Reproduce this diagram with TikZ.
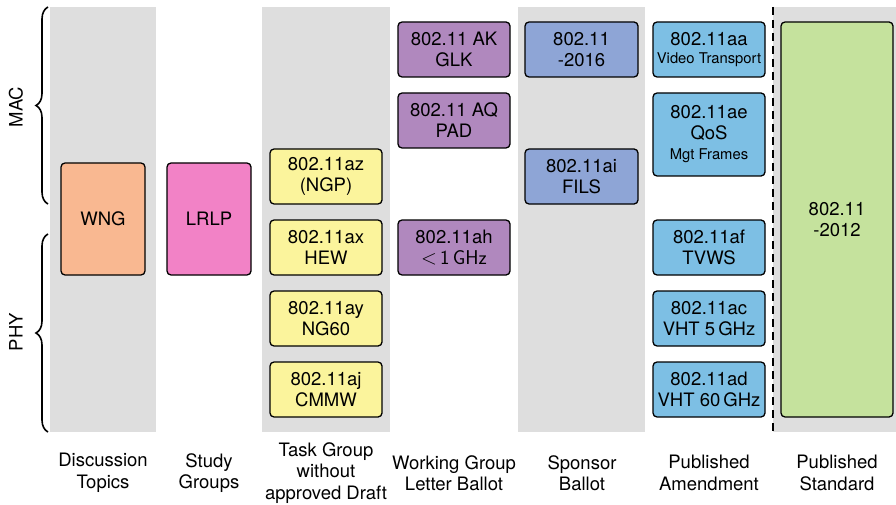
\documentclass[tikz,border=0pt]{standalone}
\usepackage{fontspec}
\setmainfont{TeX Gyre Heros}
\usetikzlibrary{decorations.pathreplacing}
\definecolor{bandgray}{HTML}{DEDEDE}
\definecolor{cwng}{HTML}{F9B891}
\definecolor{clrlp}{HTML}{F282C6}
\definecolor{cyel}{HTML}{FBF49C}
\definecolor{cpur}{HTML}{B088BE}
\definecolor{cspon}{HTML}{8EA5D6}
\definecolor{camend}{HTML}{7DBFE4}
\definecolor{cgreen}{HTML}{C5E29D}
\tikzset{
  box/.style={draw=black, line width=1.3pt, rounded corners=4pt, align=center,
    inner sep=0pt, font=\fontsize{18.5}{21}\selectfont},
  tgbox/.style={box, fill=cyel, minimum width=112pt, minimum height=55pt},
  wgbox/.style={box, fill=cpur, minimum width=112pt, minimum height=55pt},
  spbox/.style={box, fill=cspon, minimum width=113pt, minimum height=55pt},
  ambox/.style={box, fill=camend, minimum width=112pt, minimum height=55pt},
  band/.style={fill=bandgray, draw=none},
  collabel/.style={align=center, font=\fontsize{18.5}{21.5}\selectfont},
  sidelabel/.style={rotate=90, font=\fontsize{18.5}{20}\selectfont},
  bracestyle/.style={decorate, decoration={brace, amplitude=12pt}, line width=1.6pt},
}
\newcommand{\smalltxt}[1]{{\fontsize{14.8}{16}\selectfont #1}}
\begin{document}
\begin{tikzpicture}[x=1pt, y=-1pt]
\useasboundingbox (0,0) rectangle (896,505);
% bands
\fill[band] (50,7) rectangle (156,432);
\fill[band] (262,7) rectangle (390,432);
\fill[band] (518,7) rectangle (645,432);
\fill[band] (773,7) rectangle (896,432);
\draw[line width=1.8pt, dash pattern=on 8pt off 5pt] (773,7) -- (773,432);
% braces
\coordinate (macb) at (48,204);
\coordinate (mact) at (48,7);
\coordinate (phyb) at (48,432);
\coordinate (phyt) at (48,234);
\draw[bracestyle] (macb) -- (mact);
\draw[bracestyle] (phyb) -- (phyt);
\node[sidelabel] (mac) at (16,107) {MAC};
\node[sidelabel] (phy) at (16,332) {PHY};
% discussion / study
\node[box, fill=cwng, minimum width=84pt, minimum height=112pt] (wng) at (103,219) {WNG};
\node[box, fill=clrlp, minimum width=84pt, minimum height=112pt] (lrlp) at (209,219) {LRLP};
% task groups
\node[tgbox] (az) at (326,176.5) {802.11az\\(NGP)};
\node[tgbox] (ax) at (326,247.5) {802.11ax\\HEW};
\node[tgbox] (ay) at (326,318.5) {802.11ay\\NG60};
\node[tgbox] (aj) at (326,389.5) {802.11aj\\CMMW};
% working group
\node[wgbox] (ak) at (454,49.5) {802.11 AK\\GLK};
\node[wgbox] (aq) at (454,120.5) {802.11 AQ\\PAD};
\node[wgbox] (ah) at (454,247.5) {802.11ah\\{\sffamily\fontsize{20}{21}\selectfont $<$\,1\,GHz}};
% sponsor
\node[spbox] (s16) at (581.5,49.5) {802.11\\-2016};
\node[spbox] (ai) at (581.5,176.5) {802.11ai\\FILS};
% amendments
\node[ambox] (aa) at (709,49.5) {802.11aa\\[-3pt]\smalltxt{Video Transport}};
\node[ambox, minimum height=83pt] (ae) at (709,134.5) {802.11ae\\QoS\\[-1pt]\smalltxt{Mgt Frames}};
\node[ambox] (af) at (709,247.5) {802.11af\\TVWS};
\node[ambox] (ac) at (709,318.5) {802.11ac\\VHT 5\,GHz};
\node[ambox] (ad) at (709,389.5) {802.11ad\\VHT 60\,GHz};
% standard
\node[box, fill=cgreen, minimum width=112pt, minimum height=395pt] (s12) at (837,219.5) {802.11\\-2012};
% column labels
\node[collabel] (l1) at (103,473) {Discussion\\Topics};
\node[collabel] (l2) at (209,473) {Study\\Groups};
\node[collabel] (l3) at (326,473) {Task Group\\without\\approved Draft};
\node[collabel] (l4) at (454,473) {Working Group\\Letter Ballot};
\node[collabel] (l5) at (582,473) {Sponsor\\Ballot};
\node[collabel] (l6) at (709,473) {Published\\Amendment};
\node[collabel] (l7) at (837,473) {Published\\Standard};
\end{tikzpicture}
\end{document}
